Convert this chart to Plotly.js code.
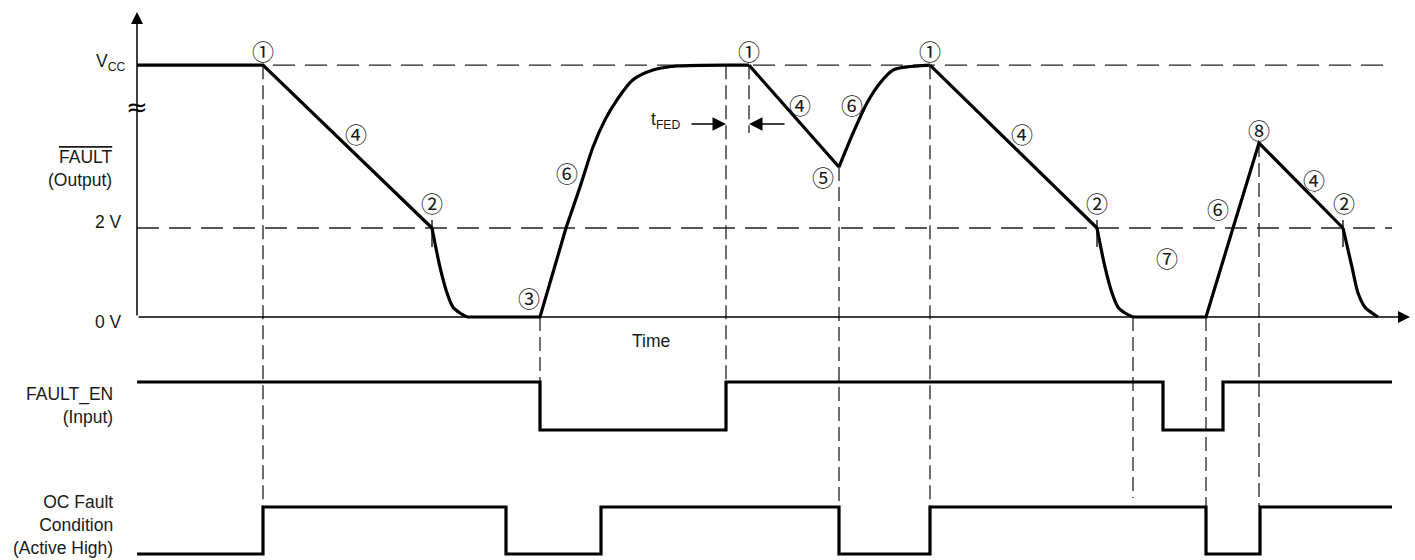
<!DOCTYPE html>
<html><head><meta charset="utf-8">
<script src="https://cdn.plot.ly/plotly-3.0.1.min.js"></script>
<style>html,body{margin:0;padding:0;background:#fff}#chart{width:1415px;height:560px}</style>
</head><body><div id="chart"></div>
<script>
// ---- Data (time in arbitrary units, voltage in display units; VCC sits above the axis break) ----
const VCC = 5.66;
const faultTime = [0, 12.6, 29.5, 30.3, 31.0, 31.6, 32.3, 33.0, 40.3, 42.9, 44.3, 45.6, 46.8, 48.0, 49.6, 51.6, 54.0, 61.2, 70.2, 71.6, 73.0, 74.3, 75.6, 77.0, 79.3, 96.0, 96.8, 97.5, 98.1, 98.8, 99.6, 106.9, 109.6, 112.2, 120.6, 121.5, 122.1, 122.8, 123.5, 124.1];
const faultVolt = [5.66, 5.66, 2.0, 1.12, 0.54, 0.22, 0.09, 0, 0, 2.0, 2.92, 3.82, 4.43, 4.88, 5.33, 5.55, 5.64, 5.66, 3.37, 4.13, 4.81, 5.26, 5.55, 5.62, 5.66, 2.0, 1.12, 0.54, 0.22, 0.09, 0, 0, 2.0, 3.91, 2.0, 1.12, 0.54, 0.22, 0.09, 0];
// which stretches of the waveform are curved (index ranges into the arrays above)
const curvedRuns = [[2, 7], [9, 17], [18, 24], [25, 30], [34, 39]];

const enTime  = [0, 40.3, 58.9, 102.6, 108.6, 125.5];
const enState = [1, 0, 1, 0, 1, 1];

const ocTime  = [0, 12.6, 36.9, 46.4, 70.2, 79.3, 106.9, 112.3, 125.5];
const ocState = [0, 1, 0, 1, 0, 1, 0, 1, 1];

// event markers: time, top voltage, bottom signal
const eventTime = [12.6, 40.3, 58.9, 61.2, 70.2, 79.3, 99.6, 106.9, 112.2];
const eventTop  = [VCC, 0, VCC, VCC, 3.37, VCC, 0, 0, 3.91];
const eventEnd  = ['oc', 'en', 'en', 'tfed', 'oc', 'oc', 'ocgap', 'oc', 'oc'];

const thresholdTime = [29.5, 96.0, 120.6];   // the "2" marks at 2 V

const markerLabels = ['①','①','①','④','④','④','④','②','②','②','③','⑥','⑥','⑥','⑤','⑦','⑧'];
const markerPx = [[263,50],[749,50],[930,50],[356,133],[800,104],[1022,133],[1314,179],[432,202],[1097,202],[1344,202],[529,297],[567,172],[852,104],[1218,208],[823,176],[1167,257],[1259,129]];

// ---- layout helpers (pixel -> axis units) ----
const X = px => (px - 137) / 10;
const Y = py => (317 - py) / 44.5;
const EN_HI = Y(382), EN_LO = Y(430), OC_HI = Y(507), OC_LO = Y(554);
const endLevel = {oc: OC_HI, en: EN_HI, tfed: Y(133), ocgap: Y(498)};

const BLACK = '#000';
const FONT = {family: 'Liberation Sans, Arial, sans-serif', size: 17.5, color: '#1a1a1a'};
const CFONT = {family: 'Noto Sans CJK JP, DejaVu Sans, sans-serif', size: 22, color: '#1a1a1a'};

const traces = [];
// dashed reference levels
traces.push({x: [X(273), 125.5, null, 0, 125.5], y: [VCC, VCC, null, 2, 2], mode: 'lines',
  line: {color: '#222', width: 1.3, dash: '22px,10px'}});
// dashed event verticals
const vx = [], vy = [];
eventTime.forEach((t, i) => { vx.push(t, t, null); vy.push(eventTop[i], endLevel[eventEnd[i]], null); });
traces.push({x: vx, y: vy, mode: 'lines', line: {color: '#222', width: 1.3, dash: '14px,6px'}});
// small ticks at threshold crossings
const tx = [], ty = [];
thresholdTime.forEach(t => { tx.push(t, t, null); ty.push(Y(220), Y(247), null); });
traces.push({x: tx, y: ty, mode: 'lines', line: {color: BLACK, width: 1.3}});
// FAULT waveform: straight runs and curved runs
let prev = 0;
const seg = (a, b, shape) => traces.push({x: faultTime.slice(a, b + 1), y: faultVolt.slice(a, b + 1), mode: 'lines',
  line: {color: BLACK, width: 3.2, shape: shape, smoothing: 0.8}});
curvedRuns.forEach(([a, b]) => { if (a > prev) seg(prev, a, 'linear'); seg(a, b, 'spline'); prev = b; });
if (prev < faultTime.length - 1) seg(prev, faultTime.length - 1, 'linear');
// digital signals
traces.push({x: enTime, y: enState.map(s => s ? EN_HI : EN_LO), mode: 'lines', line: {color: BLACK, width: 3.2, shape: 'hv'}});
traces.push({x: ocTime, y: ocState.map(s => s ? OC_HI : OC_LO), mode: 'lines', line: {color: BLACK, width: 3.2, shape: 'hv'}});

const ann = [];
const arrow = (x, y, ax, ay, w, s) => ({x, y, ax, ay, xref: 'x', yref: 'y', axref: 'x', ayref: 'y', text: '',
  showarrow: true, arrowhead: 2, arrowsize: s, arrowwidth: w, arrowcolor: BLACK, standoff: 0, startstandoff: 0});
ann.push(arrow(0, Y(12), 0, 0, 1.5, 1.6));
ann.push(arrow(X(1410), 0, 0, 0, 1.5, 1.6));
ann.push(arrow(X(726), Y(124), X(690), Y(124), 1.5, 1.8));
ann.push(arrow(X(749), Y(124), X(786), Y(124), 1.5, 1.8));

markerLabels.forEach((m, i) => ann.push({x: X(markerPx[i][0]), y: Y(markerPx[i][1]), text: m, showarrow: false, font: CFONT, xanchor: 'center', yanchor: 'middle'}));

const lab = (px, py, text, anchor) => ({x: X(px), y: Y(py), text, showarrow: false, font: FONT, xanchor: anchor || 'right', yanchor: 'middle', align: 'right'});
ann.push(lab(128, 62, 'V<sub>CC</sub>'));
ann.push(lab(124, 222, '2 V'));
ann.push(lab(124, 322, '0 V'));
ann.push(lab(115, 168, '<span style="text-decoration:overline">FAULT</span><br>(Output)'));
ann.push(lab(115, 405, 'FAULT_EN<br>(Input)'));
ann.push(lab(115, 525, 'OC Fault<br>Condition<br>(Active High)'));
ann.push(lab(651, 341, 'Time', 'center'));
ann.push(lab(683, 120, 't<sub>FED</sub>'));
ann.push({x: 0, y: Y(107), text: '≈', showarrow: false, font: {family: 'DejaVu Sans', size: 26, color: BLACK}});

const layout = {
  width: 1415, height: 560, margin: {l: 0, r: 0, t: 0, b: 0},
  paper_bgcolor: '#fff', plot_bgcolor: '#fff', showlegend: false, hovermode: false,
  xaxis: {range: [X(0), X(1415)], visible: false, fixedrange: true},
  yaxis: {range: [Y(560), Y(0)], visible: false, fixedrange: true},
  annotations: ann
};
Plotly.newPlot('chart', traces, layout, {staticPlot: true});
</script></body></html>
